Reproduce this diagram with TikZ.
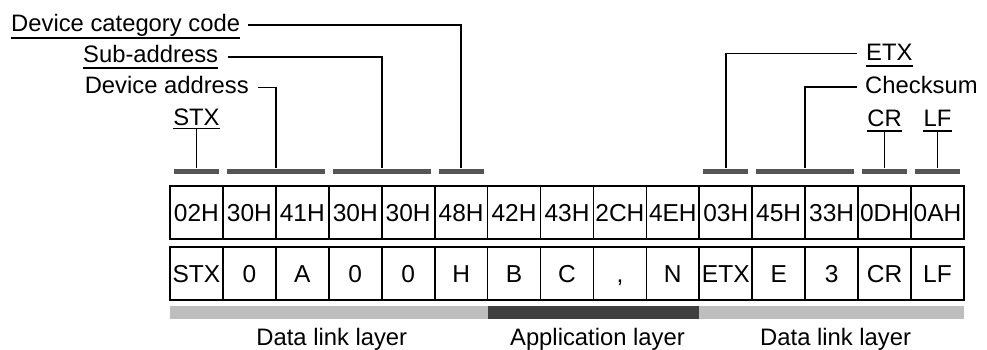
\documentclass[tikz,border=0pt]{standalone}
\usepackage{fontspec}
\setmainfont{Liberation Sans}
\definecolor{barcol}{HTML}{555555}
\definecolor{appcol}{HTML}{404040}
\definecolor{linkcol}{HTML}{BEBEBE}
\begin{document}
\begin{tikzpicture}[x=1pt,y=-1pt,
  cell/.style={draw, line width=1.7pt, minimum width=52.93pt, minimum height=53pt, inner sep=0pt,
    text height=17.5pt, text depth=0pt, font=\fontsize{24.5}{24.5}\selectfont},
  topbar/.style={fill=barcol, inner sep=0pt, minimum height=5pt},
  layerbar/.style={inner sep=0pt, minimum height=13pt},
  lbl/.style={inner sep=0pt, font=\fontsize{23.8}{24}\selectfont},
  conn/.style={line width=1.8pt},
  uline/.style={line width=1.6pt}]
\useasboundingbox (0,0) rectangle (987,349);
\def\w{52.93}
% cells
\foreach \t [count=\i] in {02H,30H,41H,30H,30H,48H,42H,43H,2CH,4EH,03H,45H,33H,0DH,0AH}
  \node[cell] (h\i) at ({170+(\i-0.5)*\w},212.5) {\t};
\foreach \t [count=\i] in {STX,0,A,0,0,H,B,C,{,},N,ETX,E,3,CR,LF}
  \node[cell] (c\i) at ({170+(\i-0.5)*\w},273.5) {\t};
% top bars
\foreach \a/\b/\n in {1/1/1,2/3/2,4/5/3,6/6/4,11/11/5,12/13/6,14/14/7,15/15/8}
  \node[topbar, minimum width={((\b-\a+1)*\w-8)*1pt}] (b\n) at ({170+(\a-1+(\b-\a+1)/2)*\w},171) {};
% layer bars
\node[layerbar, fill=linkcol, minimum width={6*\w*1pt}] (L1) at ({170+3*\w},312.5) {};
\node[layerbar, fill=appcol, minimum width={4*\w*1pt}] (L2) at ({170+8*\w},312.5) {};
\node[layerbar, fill=linkcol, minimum width={5*\w*1pt}] (L3) at ({170+12.5*\w},312.5) {};
\node[lbl, anchor=base] (t1) at ({170+3*\w+3},345) {Data link layer};
\node[lbl, anchor=base] (t2) at ({170+8*\w+4},345) {Application layer};
\node[lbl, anchor=base] (t3) at ({170+12.5*\w+4},345) {Data link layer};
% left labels
\node[lbl, anchor=base west] (cat) at (11,31) {Device category code};
\draw[uline] ([yshift=-7pt]cat.base west) -- ([yshift=-7pt]cat.base east);
\draw[conn] ([xshift=8pt,yshift=6pt]cat.base east) -| (b4.north);
\node[lbl, anchor=base west] (sub) at (83,62.5) {Sub-address};
\draw[uline] ([yshift=-5.5pt]sub.base west) -- ([yshift=-5.5pt]sub.base east);
\draw[conn] ([xshift=10pt,yshift=5.5pt]sub.base east) -| (b3.north);
\node[lbl, anchor=base east] (dev) at (249,93.5) {Device address};
\draw[conn] ([xshift=9pt,yshift=6pt]dev.base east) -| (b2.north);
\node[lbl, anchor=base] (stx) at ({170+0.5*\w},125) {STX};
\draw[uline] ([yshift=-3.5pt]stx.base west) -- ([yshift=-3.5pt]stx.base east);
\draw[conn] ([yshift=-3.5pt]stx.base) -- (b1.north);
% right labels
\node[lbl, anchor=base west] (etx) at (866,60.5) {ETX};
\draw[uline] ([yshift=-5.5pt]etx.base west) -- ([yshift=-5.5pt]etx.base east);
\draw[conn] ([xshift=-9pt,yshift=7pt]etx.base west) -| (b5.north);
\node[lbl, anchor=base west] (chk) at (865,93) {Checksum};
\draw[conn] ([xshift=-8pt,yshift=6pt]chk.base west) -| (b6.north);
\node[lbl, anchor=base] (cr) at ({170+13.5*\w},126) {CR};
\draw[uline] ([yshift=-5pt]cr.base west) -- ([yshift=-5pt]cr.base east);
\draw[conn] ([yshift=-5pt]cr.base) -- (b7.north);
\node[lbl, anchor=base] (lf) at ({170+14.5*\w},126) {LF};
\draw[uline] ([yshift=-5pt]lf.base west) -- ([yshift=-5pt]lf.base east);
\draw[conn] ([yshift=-5pt]lf.base) -- (b8.north);
\end{tikzpicture}
\end{document}
